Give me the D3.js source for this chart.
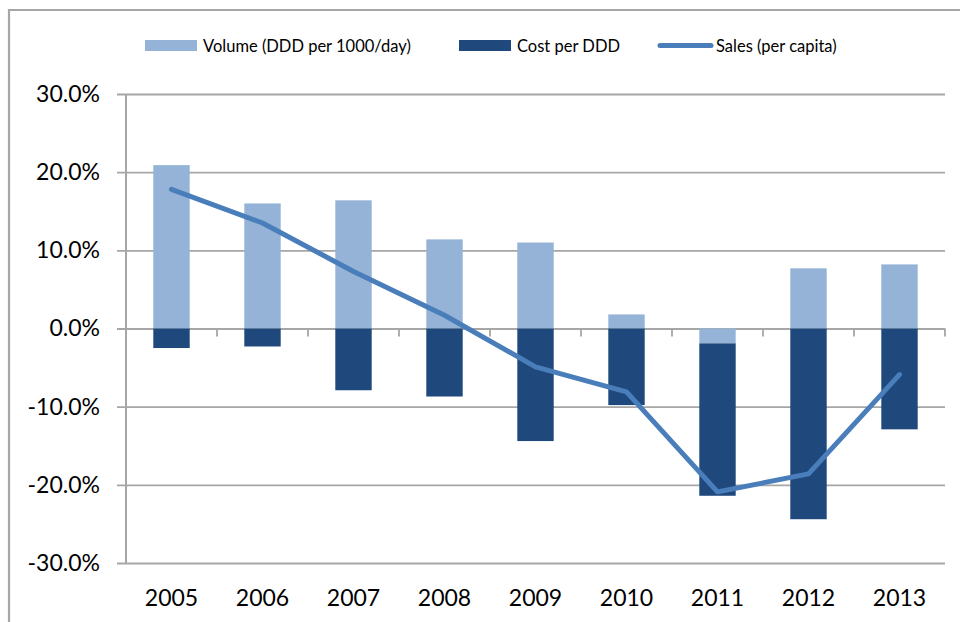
<!DOCTYPE html>
<html>
<head>
<meta charset="utf-8">
<script src="https://cdn.jsdelivr.net/npm/d3@7"></script>
<style>
  html, body { margin: 0; padding: 0; background: #fff; }
  svg { display: block; font-family: Lato, "Open Sans", sans-serif; }
</style>
</head>
<body>
<svg id="chart" width="960" height="622"></svg>
<script>
// Annual growth components, 2005–2013
const years  = ["2005", "2006", "2007", "2008", "2009", "2010", "2011", "2012", "2013"];
const volume = [20.9, 16.0, 16.4, 11.4, 11.0, 1.8, -1.9, 7.7, 8.2];       // Volume (DDD per 1000/day), %
const cost   = [-2.5, -2.3, -7.9, -8.7, -14.4, -9.8, -19.5, -24.4, -12.9]; // Cost per DDD, %
const sales  = [17.8, 13.5, 7.3, 1.7, -4.9, -8.1, -20.9, -18.6, -5.9];    // Sales (per capita), %
const yTicks = [-30, -20, -10, 0, 10, 20, 30];

const seriesNames = {
  volume: "Volume (DDD per 1000/day)",
  cost: "Cost per DDD",
  sales: "Sales (per capita)"
};
const colors = { volume: "#95b3d7", cost: "#1f497d", sales: "#4a7ebb" };
const gridColor = "#a6a6a6";

const svg = d3.select("#chart");
const plot = { left: 126, right: 945, top: 94, bottom: 563 };

const x = d3.scaleBand().domain(years)
  .range([plot.left, plot.right])
  .paddingInner(0.6).paddingOuter(0.3);
const y = d3.scaleLinear().domain([-30, 30]).range([plot.bottom, plot.top]);

// percentage labels with a plain hyphen for negatives
const pct = d3.formatLocale({ decimal: ".", thousands: ",", grouping: [3], currency: ["", ""], minus: "-" })
  .format(".1f");

// outer frame of the chart area
svg.append("path")
  .attr("d", "M9,640 L9,10 L970,10")
  .attr("fill", "none").attr("stroke", "#a6a6a6").attr("stroke-width", 2.2);

// horizontal gridlines (with short ticks left of the axis)
const grid = svg.append("g").attr("transform", `translate(${plot.right},0)`)
  .call(d3.axisLeft(y).tickValues(yTicks).tickSize(plot.right - 117).tickFormat(""));
grid.select(".domain").remove();
grid.selectAll("line").attr("stroke", gridColor).attr("stroke-width", 1.8);

// y labels
const yAxis = svg.append("g").attr("transform", "translate(117,0)")
  .call(d3.axisLeft(y).tickValues(yTicks).tickSize(0).tickPadding(17)
    .tickFormat(d => pct(d) + "%"));
yAxis.select(".domain").remove();
yAxis.selectAll("text").attr("font-family", "Lato, sans-serif")
  .attr("font-size", 23).attr("fill", "#000");

// stacked bars (diverging)
const rows = years.map((yr, i) => ({ year: yr, volume: volume[i], cost: cost[i] }));
const stack = d3.stack().keys(["volume", "cost"]).offset(d3.stackOffsetDiverging);
const layers = stack(rows);

svg.append("g").selectAll("g").data(layers).join("g")
  .attr("fill", d => colors[d.key])
  .selectAll("rect").data(d => d).join("rect")
  .attr("x", d => x(d.data.year))
  .attr("width", x.bandwidth())
  .attr("y", d => y(Math.max(d[0], d[1])))
  .attr("height", d => Math.abs(y(d[0]) - y(d[1])));

// vertical axis line
svg.append("line")
  .attr("x1", plot.left).attr("x2", plot.left)
  .attr("y1", plot.top).attr("y2", plot.bottom)
  .attr("stroke", gridColor).attr("stroke-width", 2);

// category tick marks on the zero line
const boundaries = years.map(d => x(d) - x.step() * x.paddingOuter()).concat([plot.right]);
svg.append("g").selectAll("line").data(boundaries.slice(1)).join("line")
  .attr("x1", d => d).attr("x2", d => d)
  .attr("y1", y(0)).attr("y2", y(0) + 8)
  .attr("stroke", gridColor).attr("stroke-width", 1.8);

// x labels
const xAxis = svg.append("g").attr("transform", `translate(0,${plot.bottom})`)
  .call(d3.axisBottom(x).tickSize(0).tickPadding(26.5));
xAxis.select(".domain").remove();
xAxis.selectAll("text").attr("font-family", "Lato, sans-serif")
  .attr("font-size", 23).attr("fill", "#000");

// sales line
const line = d3.line()
  .x((d, i) => x(years[i]) + x.bandwidth() / 2)
  .y(d => y(d));
svg.append("path").datum(sales)
  .attr("d", line)
  .attr("fill", "none").attr("stroke", colors.sales)
  .attr("stroke-width", 5).attr("stroke-linejoin", "round").attr("stroke-linecap", "round");

// legend
const legend = svg.append("g").attr("font-family", "Lato, sans-serif").attr("font-size", 16.5);
const legendItems = [
  { key: "volume", x: 145, type: "rect" },
  { key: "cost", x: 459, type: "rect" },
  { key: "sales", x: 658, type: "line" }
];
legendItems.forEach(it => {
  if (it.type === "rect") {
    legend.append("rect").attr("x", it.x).attr("y", 40).attr("width", 52).attr("height", 11)
      .attr("fill", colors[it.key]);
  } else {
    legend.append("line").attr("x1", it.x + 2).attr("x2", it.x + 53)
      .attr("y1", 45.5).attr("y2", 45.5)
      .attr("stroke", colors[it.key]).attr("stroke-width", 5).attr("stroke-linecap", "round");
  }
  legend.append("text").attr("x", it.x + 58).attr("y", 51.5)
    .attr("fill", "#000").text(seriesNames[it.key]);
});
</script>
</body>
</html>
